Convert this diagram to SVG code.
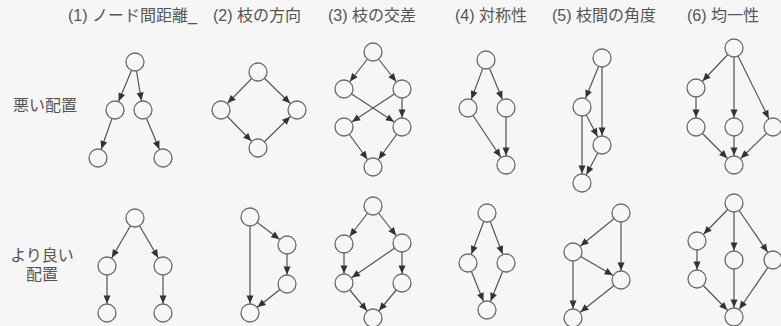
<svg xmlns="http://www.w3.org/2000/svg" width="781" height="326" viewBox="0 0 781 326">
<defs>
<marker id="arr" markerUnits="userSpaceOnUse" markerWidth="20" markerHeight="8" refX="17.6" refY="3.5" orient="auto" overflow="visible">
<path d="M0,0 L8,3.5 L0,7 z" fill="#333"/>
</marker>
<style>
.t{font-family:"Liberation Sans","Noto Sans CJK JP",sans-serif;font-size:16px;fill:#555}
.n circle{fill:#f6f6f6;stroke:#6a6a6a;stroke-width:1.3}
#edges line{stroke:#555;stroke-width:1.2;marker-end:url(#arr)}
</style>
</defs>
<rect width="781" height="326" fill="#f6f6f6"/>
<g id="headers">
<text class="t" x="68" y="21">(1) ノード間距離_</text>
<text class="t" x="213" y="21">(2) 枝の方向</text>
<text class="t" x="328" y="21">(3) 枝の交差</text>
<text class="t" x="455" y="21">(4) 対称性</text>
<text class="t" x="552" y="21">(5) 枝間の角度</text>
<text class="t" x="687" y="21">(6) 均一性</text>
</g>
<g id="rowlabels">
<text class="t" x="45" y="111" text-anchor="middle">悪い配置</text>
<text class="t" x="42" y="261" text-anchor="middle">より良い</text>
<text class="t" x="42" y="280" text-anchor="middle">配置</text>
</g>
<g id="edges">
<!-- col1 bad -->
<line x1="135" y1="62" x2="115" y2="110"/>
<line x1="135" y1="62" x2="143" y2="110"/>
<line x1="115" y1="110" x2="98" y2="158"/>
<line x1="143" y1="110" x2="163" y2="158"/>
<!-- col1 good -->
<line x1="135" y1="218" x2="107" y2="266"/>
<line x1="135" y1="218" x2="163" y2="266"/>
<line x1="107" y1="266" x2="107" y2="313"/>
<line x1="163" y1="266" x2="163" y2="313"/>
<!-- col2 bad -->
<line x1="258" y1="72" x2="221" y2="110"/>
<line x1="258" y1="72" x2="297" y2="110"/>
<line x1="221" y1="110" x2="258" y2="148"/>
<line x1="258" y1="148" x2="297" y2="110"/>
<!-- col2 good -->
<line x1="250" y1="217" x2="287" y2="245"/>
<line x1="287" y1="245" x2="287" y2="284"/>
<line x1="287" y1="284" x2="250" y2="313"/>
<line x1="250" y1="217" x2="250" y2="313"/>
<!-- col3 bad -->
<line x1="373" y1="52" x2="344" y2="89"/>
<line x1="373" y1="52" x2="402" y2="89"/>
<line x1="344" y1="89" x2="402" y2="127"/>
<line x1="402" y1="89" x2="344" y2="127"/>
<line x1="402" y1="89" x2="402" y2="127"/>
<line x1="344" y1="127" x2="373" y2="167"/>
<line x1="402" y1="127" x2="373" y2="167"/>
<!-- col3 good -->
<line x1="373" y1="206" x2="344" y2="244"/>
<line x1="373" y1="206" x2="402" y2="243"/>
<line x1="344" y1="244" x2="344" y2="283"/>
<line x1="402" y1="243" x2="344" y2="283"/>
<line x1="402" y1="243" x2="402" y2="283"/>
<line x1="344" y1="283" x2="373" y2="318"/>
<line x1="402" y1="283" x2="373" y2="318"/>
<!-- col4 bad -->
<line x1="486" y1="60" x2="468" y2="108"/>
<line x1="486" y1="60" x2="506" y2="108"/>
<line x1="468" y1="108" x2="506" y2="165"/>
<line x1="506" y1="108" x2="506" y2="165"/>
<!-- col4 good -->
<line x1="487" y1="213" x2="468" y2="263"/>
<line x1="487" y1="213" x2="506" y2="263"/>
<line x1="468" y1="263" x2="487" y2="310"/>
<line x1="506" y1="263" x2="487" y2="310"/>
<!-- col5 bad -->
<line x1="602" y1="58" x2="582" y2="107"/>
<line x1="602" y1="58" x2="602" y2="145"/>
<line x1="582" y1="107" x2="602" y2="145"/>
<line x1="582" y1="107" x2="582" y2="183"/>
<line x1="602" y1="145" x2="582" y2="183"/>
<!-- col5 good -->
<line x1="621" y1="213" x2="573" y2="252"/>
<line x1="621" y1="213" x2="621" y2="280"/>
<line x1="573" y1="252" x2="621" y2="280"/>
<line x1="573" y1="252" x2="573" y2="318"/>
<line x1="621" y1="280" x2="573" y2="318"/>
<!-- col6 bad -->
<line x1="734" y1="48" x2="696" y2="88"/>
<line x1="696" y1="88" x2="696" y2="127"/>
<line x1="734" y1="48" x2="734" y2="127"/>
<line x1="734" y1="48" x2="773" y2="127"/>
<line x1="696" y1="127" x2="734" y2="165"/>
<line x1="734" y1="127" x2="734" y2="165"/>
<line x1="773" y1="127" x2="734" y2="165"/>
<!-- col6 good -->
<line x1="734" y1="203" x2="697" y2="241"/>
<line x1="697" y1="241" x2="697" y2="279"/>
<line x1="734" y1="203" x2="734" y2="260"/>
<line x1="734" y1="203" x2="773" y2="260"/>
<line x1="697" y1="279" x2="734" y2="317"/>
<line x1="734" y1="260" x2="734" y2="317"/>
<line x1="773" y1="260" x2="734" y2="317"/>
</g>
<g id="nodes">
<g id="c1b-a" class="n"><circle cx="135" cy="62" r="9"/></g>
<g id="c1b-b" class="n"><circle cx="115" cy="110" r="9"/></g>
<g id="c1b-c" class="n"><circle cx="143" cy="110" r="9"/></g>
<g id="c1b-d" class="n"><circle cx="98" cy="158" r="9"/></g>
<g id="c1b-e" class="n"><circle cx="163" cy="158" r="9"/></g>
<g id="c1g-a" class="n"><circle cx="135" cy="218" r="9"/></g>
<g id="c1g-b" class="n"><circle cx="107" cy="266" r="9"/></g>
<g id="c1g-c" class="n"><circle cx="163" cy="266" r="9"/></g>
<g id="c1g-d" class="n"><circle cx="107" cy="313" r="9"/></g>
<g id="c1g-e" class="n"><circle cx="163" cy="313" r="9"/></g>
<g id="c2b-a" class="n"><circle cx="258" cy="72" r="9"/></g>
<g id="c2b-b" class="n"><circle cx="221" cy="110" r="9"/></g>
<g id="c2b-c" class="n"><circle cx="297" cy="110" r="9"/></g>
<g id="c2b-d" class="n"><circle cx="258" cy="148" r="9"/></g>
<g id="c2g-a" class="n"><circle cx="250" cy="217" r="9"/></g>
<g id="c2g-b" class="n"><circle cx="287" cy="245" r="9"/></g>
<g id="c2g-c" class="n"><circle cx="287" cy="284" r="9"/></g>
<g id="c2g-d" class="n"><circle cx="250" cy="313" r="9"/></g>
<g id="c3b-a" class="n"><circle cx="373" cy="52" r="9"/></g>
<g id="c3b-b" class="n"><circle cx="344" cy="89" r="9"/></g>
<g id="c3b-c" class="n"><circle cx="402" cy="89" r="9"/></g>
<g id="c3b-d" class="n"><circle cx="344" cy="127" r="9"/></g>
<g id="c3b-e" class="n"><circle cx="402" cy="127" r="9"/></g>
<g id="c3b-f" class="n"><circle cx="373" cy="167" r="9"/></g>
<g id="c3g-a" class="n"><circle cx="373" cy="206" r="9"/></g>
<g id="c3g-b" class="n"><circle cx="344" cy="244" r="9"/></g>
<g id="c3g-c" class="n"><circle cx="402" cy="243" r="9"/></g>
<g id="c3g-d" class="n"><circle cx="344" cy="283" r="9"/></g>
<g id="c3g-e" class="n"><circle cx="402" cy="283" r="9"/></g>
<g id="c3g-f" class="n"><circle cx="373" cy="318" r="9"/></g>
<g id="c4b-a" class="n"><circle cx="486" cy="60" r="9"/></g>
<g id="c4b-b" class="n"><circle cx="468" cy="108" r="9"/></g>
<g id="c4b-c" class="n"><circle cx="506" cy="108" r="9"/></g>
<g id="c4b-d" class="n"><circle cx="506" cy="165" r="9"/></g>
<g id="c4g-a" class="n"><circle cx="487" cy="213" r="9"/></g>
<g id="c4g-b" class="n"><circle cx="468" cy="263" r="9"/></g>
<g id="c4g-c" class="n"><circle cx="506" cy="263" r="9"/></g>
<g id="c4g-d" class="n"><circle cx="487" cy="310" r="9"/></g>
<g id="c5b-a" class="n"><circle cx="602" cy="58" r="9"/></g>
<g id="c5b-b" class="n"><circle cx="582" cy="107" r="9"/></g>
<g id="c5b-c" class="n"><circle cx="602" cy="145" r="9"/></g>
<g id="c5b-d" class="n"><circle cx="582" cy="183" r="9"/></g>
<g id="c5g-a" class="n"><circle cx="621" cy="213" r="9"/></g>
<g id="c5g-b" class="n"><circle cx="573" cy="252" r="9"/></g>
<g id="c5g-c" class="n"><circle cx="621" cy="280" r="9"/></g>
<g id="c5g-d" class="n"><circle cx="573" cy="318" r="9"/></g>
<g id="c6b-a" class="n"><circle cx="734" cy="48" r="9"/></g>
<g id="c6b-b" class="n"><circle cx="696" cy="88" r="9"/></g>
<g id="c6b-c" class="n"><circle cx="696" cy="127" r="9"/></g>
<g id="c6b-d" class="n"><circle cx="734" cy="127" r="9"/></g>
<g id="c6b-e" class="n"><circle cx="773" cy="127" r="9"/></g>
<g id="c6b-f" class="n"><circle cx="734" cy="165" r="9"/></g>
<g id="c6g-a" class="n"><circle cx="734" cy="203" r="9"/></g>
<g id="c6g-b" class="n"><circle cx="697" cy="241" r="9"/></g>
<g id="c6g-c" class="n"><circle cx="697" cy="279" r="9"/></g>
<g id="c6g-d" class="n"><circle cx="734" cy="260" r="9"/></g>
<g id="c6g-e" class="n"><circle cx="773" cy="260" r="9"/></g>
<g id="c6g-f" class="n"><circle cx="734" cy="317" r="9"/></g>
</g>
</svg>
